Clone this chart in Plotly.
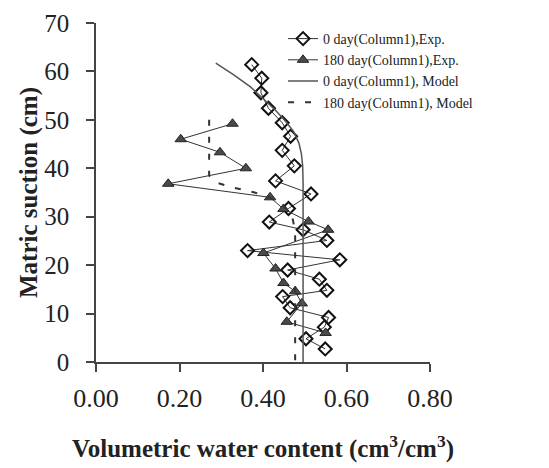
import plotly.graph_objects as go

# 0 day (Column1), experimental
exp0_theta = [0.373, 0.397, 0.395, 0.413, 0.446, 0.466, 0.446, 0.475, 0.430, 0.515,
              0.461, 0.415, 0.496, 0.553, 0.363, 0.584, 0.459, 0.535, 0.553, 0.447,
              0.465, 0.557, 0.547, 0.503, 0.549]
exp0_suction = [61.4, 58.6, 55.6, 52.4, 49.4, 46.6, 43.7, 40.5, 37.4, 34.7,
                31.7, 28.9, 27.3, 25.1, 23.0, 21.1, 19.0, 17.1, 14.8, 13.5,
                11.2, 9.2, 7.2, 4.8, 2.7]

# 180 day (Column1), experimental
exp180_theta = [0.327, 0.203, 0.297, 0.359, 0.173, 0.417, 0.449, 0.509, 0.556, 0.401,
                0.430, 0.449, 0.477, 0.493, 0.457, 0.550]
exp180_suction = [49.2, 46.0, 43.3, 40.0, 36.8, 34.0, 31.6, 29.0, 27.3, 22.5,
                  19.3, 16.3, 14.6, 12.1, 8.3, 6.0]

# 0 day (Column1), model
mod0_theta = [0.287, 0.330, 0.370, 0.400, 0.430, 0.455, 0.473, 0.486, 0.492, 0.495, 0.496, 0.496]
mod0_suction = [61.7, 59.3, 56.8, 54.5, 52.0, 49.6, 47.6, 45.2, 43.0, 40.5, 37.0, 0.0]

# 180 day (Column1), model
mod180_theta = [0.271, 0.271, 0.290, 0.330, 0.380, 0.420, 0.452, 0.470, 0.477, 0.477]
mod180_suction = [50.0, 38.5, 37.0, 36.0, 35.0, 33.8, 32.0, 30.0, 27.0, 0.0]

x_ticks = [0.0, 0.2, 0.4, 0.6, 0.8]
x_ticklabels = ["0.00", "0.20", "0.40", "0.60", "0.80"]
y_ticks = [0, 10, 20, 30, 40, 50, 60, 70]

FONT = "Liberation Serif, Times New Roman, serif"

fig = go.Figure()
fig.add_trace(go.Scatter(
    x=exp0_theta, y=exp0_suction, mode="lines+markers",
    name="0 day(Column1),Exp.",
    line=dict(color="#333333", width=1),
    marker=dict(symbol="diamond-open", size=10, color="#111111", line=dict(width=2, color="#111111")),
))
fig.add_trace(go.Scatter(
    x=exp180_theta, y=exp180_suction, mode="lines+markers",
    name="180 day(Column1),Exp.",
    line=dict(color="#333333", width=1),
    marker=dict(symbol="triangle-up", size=10, color="#4a4a4a", line=dict(width=1, color="#222222")),
))
fig.add_trace(go.Scatter(
    x=mod0_theta, y=mod0_suction, mode="lines",
    name="0 day(Column1), Model",
    line=dict(color="#555555", width=1.5),
))
fig.add_trace(go.Scatter(
    x=mod180_theta, y=mod180_suction, mode="lines",
    name="180 day(Column1), Model",
    line=dict(color="#333333", width=2, dash="6px,11px"),
))

fig.update_layout(
    width=541, height=460,
    margin=dict(l=88, r=119, t=15, b=106, autoexpand=False),
    paper_bgcolor="white", plot_bgcolor="white",
    font=dict(family=FONT, color="#222222"),
    showlegend=True,
    legend=dict(
        x=0.56, y=1.0, xanchor="left", yanchor="top",
        bgcolor="rgba(255,255,255,0)", font=dict(size=14, family=FONT),
        itemwidth=30, tracegroupgap=0,
    ),
)
fig.update_xaxes(
    range=[0, 0.8], tickvals=x_ticks, ticktext=x_ticklabels, automargin=False,
    showgrid=False, zeroline=False, showline=True, linecolor="#444444", linewidth=1.5,
    ticks="outside", ticklen=8, tickcolor="#444444", tickwidth=1.5,
    tickfont=dict(size=26, family=FONT), ticklabelstandoff=4,
    title=dict(text="<b>Volumetric water content (cm<sup>3</sup>/cm<sup>3</sup>)</b>",
               font=dict(size=25, family=FONT), standoff=28),
)
fig.update_yaxes(
    range=[0, 70], tickvals=y_ticks, automargin=False,
    showgrid=False, zeroline=False, showline=True, linecolor="#444444", linewidth=1.5,
    ticks="outside", ticklen=8, tickcolor="#444444", tickwidth=1.5,
    tickfont=dict(size=25, family=FONT), ticklabelstandoff=12,
    title=dict(text="<b>Matric suction (cm)</b>", font=dict(size=25, family=FONT), standoff=0),
)

fig.write_html("out.html")
